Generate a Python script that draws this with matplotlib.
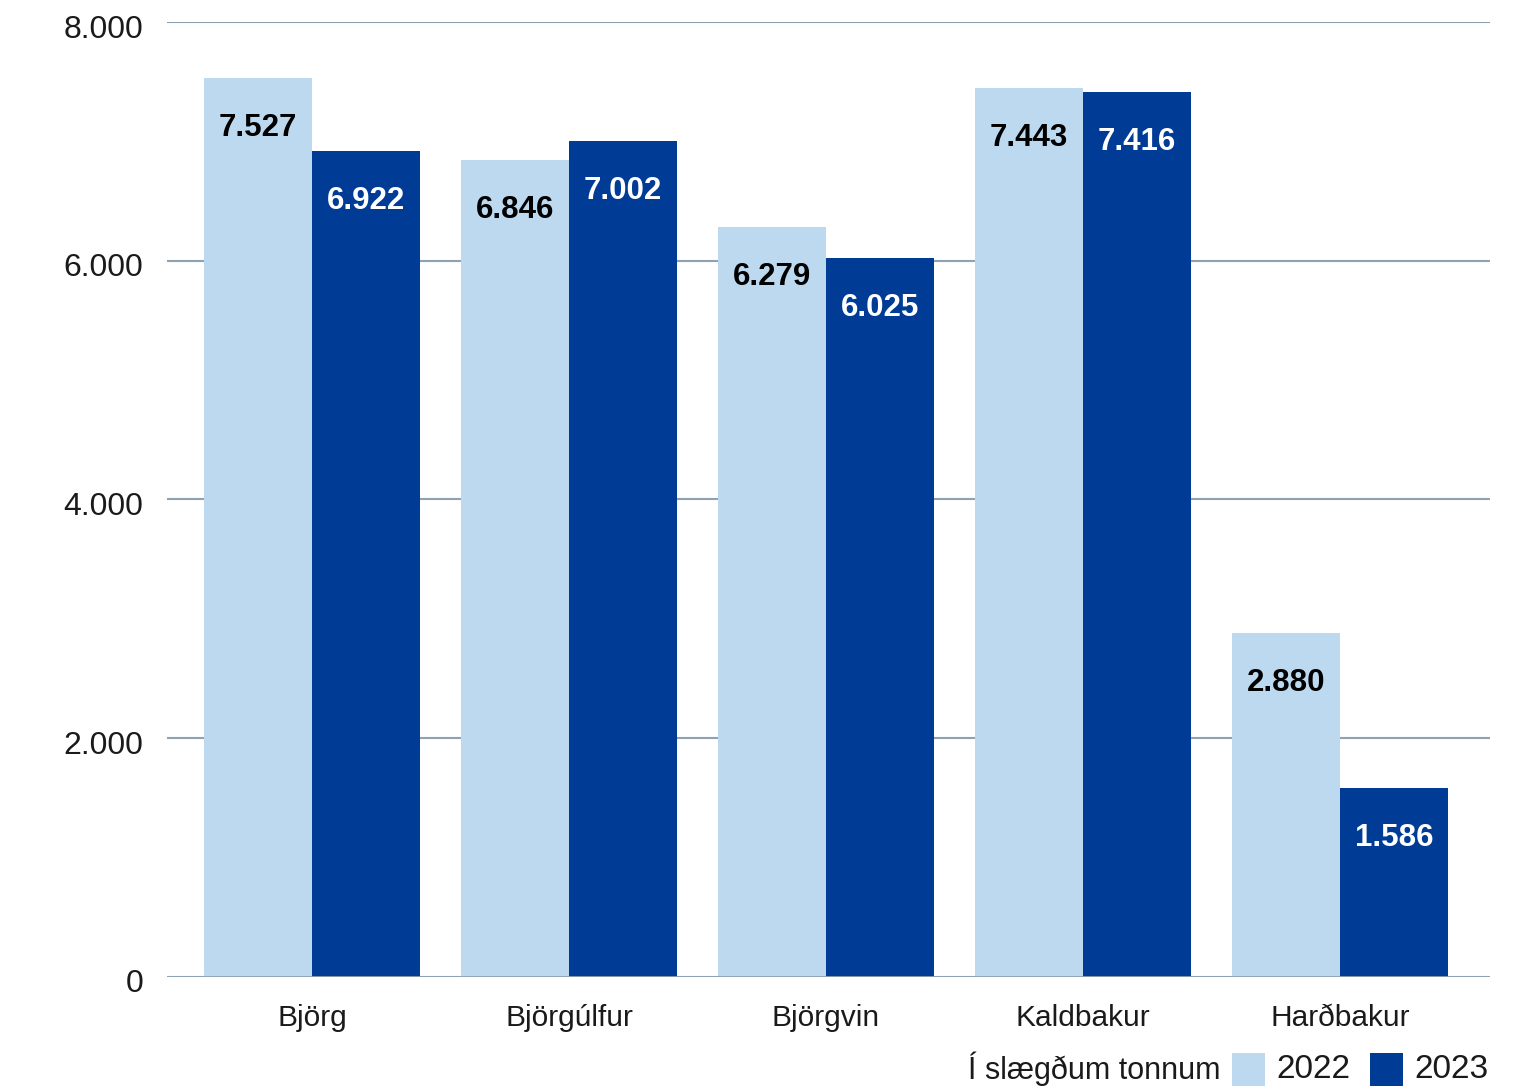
import matplotlib
matplotlib.use("Agg")
import matplotlib.pyplot as plt
import numpy as np
from matplotlib.ticker import FuncFormatter
from matplotlib.patches import Rectangle
import matplotlib.transforms as mtransforms

categories = ["Björg", "Björgúlfur", "Björgvin", "Kaldbakur", "Harðbakur"]
values_2022 = [7527, 6846, 6279, 7443, 2880]
values_2023 = [6922, 7002, 6025, 7416, 1586]
series_names = ["2022", "2023"]
y_ticks = [0, 2000, 4000, 6000, 8000]
unit_label = "Í slægðum tonnum"

c_light = "#bcd9f0"
c_dark = "#003b96"
grid_c = "#8fa2b2"
text_c = "#1a1a1a"

plt.rcParams['font.family'] = ['Liberation Sans', 'DejaVu Sans']

W, H = 1538, 1090
fig = plt.figure(figsize=(W / 100, H / 100), dpi=100)
ax = fig.add_axes([167 / W, 1 - 977 / H, (1490 - 167) / W, (977 - 22) / H])

x = np.arange(len(categories))
bw = 108 / 257
b1 = ax.bar(x - bw / 2, values_2022, bw, color=c_light, zorder=3)
b2 = ax.bar(x + bw / 2, values_2023, bw, color=c_dark, zorder=3)

def fmt(v):
    return f"{v:,.0f}".replace(",", ".")

for bars, vals, col in ((b1, values_2022, 'black'), (b2, values_2023, 'white')):
    for rect, v in zip(bars, vals):
        ax.annotate(fmt(v), (rect.get_x() + rect.get_width() / 2, rect.get_height()),
                    xytext=(0, -50), textcoords='offset pixels', ha='center', va='center',
                    fontsize=22.5, fontweight='bold', color=col, zorder=4)

ax.set_xlim(-145 / 257, 4 + 150 / 257)
ax.set_ylim(0, 8000)
ax.set_yticks(y_ticks)
ax.yaxis.set_major_formatter(FuncFormatter(lambda v, p: fmt(v)))
ax.set_xticks(x)
ax.set_xticklabels(categories)
ax.tick_params(axis='y', length=0, pad=17, labelsize=23, labelcolor=text_c)
ax.tick_params(axis='x', length=0, pad=19.5, labelsize=21.5, labelcolor=text_c)
offset = mtransforms.ScaledTranslation(0, -4 / 100, fig.dpi_scale_trans)
for lab in ax.get_yticklabels():
    lab.set_transform(lab.get_transform() + offset)
for s in ax.spines.values():
    s.set_visible(False)
ax.grid(axis='y', color=grid_c, linewidth=1.5, zorder=0)
ax.set_axisbelow(True)
ax.axhline(0, color=grid_c, linewidth=2, zorder=5)

# legend, laid out by hand
ly = 1 - 1069 / H
sq_w, sq_h = 33 / W, 33 / H
for x0, col, name, tx in ((1232, c_light, series_names[0], 1276), (1370, c_dark, series_names[1], 1414)):
    fig.patches.append(Rectangle((x0 / W, ly - sq_h / 2), sq_w, sq_h, facecolor=col,
                                 edgecolor='none', transform=fig.transFigure))
    fig.text(tx / W, ly, name, ha='left', va='center', fontsize=24, color=text_c)
fig.text(1221 / W, ly, unit_label, ha='right', va='center', fontsize=22, color=text_c)

fig.savefig("out.png", dpi=100)
